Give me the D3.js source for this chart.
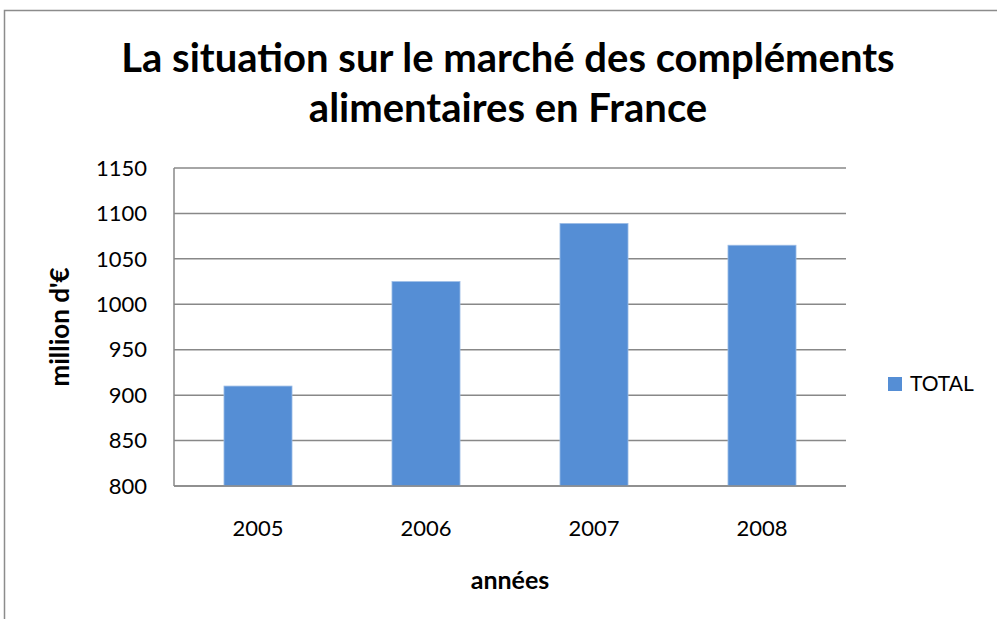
<!DOCTYPE html>
<html>
<head>
<meta charset="utf-8">
<script src="https://cdn.jsdelivr.net/npm/d3@7"></script>
<style>
  body { margin: 0; background: #fff; }
  text { font-family: Lato, "Open Sans", sans-serif; }
</style>
</head>
<body>
<script>
// chart data
var years = ["2005", "2006", "2007", "2008"];
var totals = [910, 1025, 1089, 1065];
var yTicks = [800, 850, 900, 950, 1000, 1050, 1100, 1150];
var seriesName = "TOTAL";
var titleLines = ["La situation sur le marché des compléments", "alimentaires en France"];

var width = 997, height = 619;
var margin = {top: 168, right: 151, bottom: 133, left: 174};
var plotW = width - margin.left - margin.right;
var plotH = height - margin.top - margin.bottom;

var svg = d3.select("body").append("svg")
    .attr("width", width)
    .attr("height", height);

// outer chart border
svg.append("rect")
    .attr("x", 4.5).attr("y", 10.5)
    .attr("width", 1100).attr("height", 700)
    .attr("fill", "none")
    .attr("stroke", "#8c8c8c")
    .attr("stroke-width", 1.5);

var x = d3.scaleBand().domain(years).range([0, plotW]).paddingInner(0.595).paddingOuter(0.2975);
var y = d3.scaleLinear().domain([800, 1150]).range([plotH, 0]);

var g = svg.append("g").attr("transform", "translate(" + margin.left + "," + margin.top + ")");

// gridlines
g.selectAll("line.grid")
    .data(yTicks)
    .enter().append("line")
    .attr("class", "grid")
    .attr("x1", 0).attr("x2", plotW)
    .attr("y1", function(d) { return y(d); })
    .attr("y2", function(d) { return y(d); })
    .attr("stroke", "#888")
    .attr("stroke-width", 1.5);

// bars
g.selectAll("rect.bar")
    .data(totals)
    .enter().append("rect")
    .attr("class", "bar")
    .attr("x", function(d, i) { return x(years[i]); })
    .attr("width", x.bandwidth())
    .attr("y", function(d) { return y(d); })
    .attr("height", function(d) { return plotH - y(d); })
    .attr("fill", "#558ed5")
    .attr("stroke", "#9dbde6")
    .attr("stroke-width", 0.8);

// axes lines
g.append("line").attr("x1", 0).attr("x2", 0).attr("y1", 0).attr("y2", plotH)
    .attr("stroke", "#888").attr("stroke-width", 1.5);
g.append("line").attr("x1", 0).attr("x2", plotW).attr("y1", plotH).attr("y2", plotH)
    .attr("stroke", "#888").attr("stroke-width", 1.5);

// y tick labels
g.selectAll("text.ytick")
    .data(yTicks)
    .enter().append("text")
    .attr("x", -27)
    .attr("y", function(d) { return y(d); })
    .attr("dy", "0.35em")
    .attr("text-anchor", "end")
    .style("font-size", "22px")
    .style("fill", "#000")
    .text(function(d) { return d; });

// x tick labels
g.selectAll("text.xtick")
    .data(years)
    .enter().append("text")
    .attr("x", function(d) { return x(d) + x.bandwidth() / 2; })
    .attr("y", plotH + 42)
    .attr("dy", "0.35em")
    .attr("text-anchor", "middle")
    .style("font-size", "22px")
    .style("fill", "#000")
    .text(function(d) { return d; });

// axis titles
svg.append("text")
    .attr("x", 510)
    .attr("y", 589)
    .attr("text-anchor", "middle")
    .style("font-size", "25px")
    .style("font-weight", "bold")
    .text("années");

svg.append("text")
    .attr("transform", "translate(60," + (margin.top + plotH / 2) + ") rotate(-90)")
    .attr("dy", "0.35em")
    .attr("text-anchor", "middle")
    .style("font-size", "26px")
    .style("font-weight", "bold")
    .text("million d'€");

// title
svg.selectAll("text.title")
    .data(titleLines)
    .enter().append("text")
    .attr("class", "title")
    .attr("x", 508)
    .attr("y", function(d, i) { return 71.5 + i * 50; })
    .attr("text-anchor", "middle")
    .style("font-size", "40px")
    .style("font-weight", "bold")
    .text(function(d) { return d; });

// legend
var leg = svg.append("g").attr("transform", "translate(888,384)");
leg.append("rect").attr("x", 0).attr("y", -7).attr("width", 14).attr("height", 14).attr("fill", "#558ed5");
leg.append("text").attr("x", 22).attr("y", 0).attr("dy", "0.35em")
    .style("font-size", "21px").text(seriesName);
</script>
</body>
</html>
